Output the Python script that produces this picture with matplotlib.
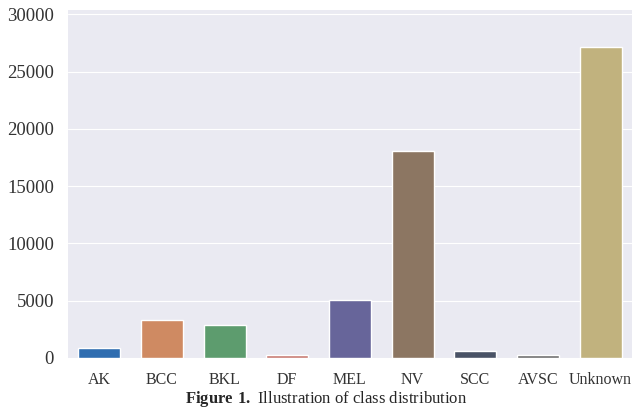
import matplotlib
matplotlib.use("Agg")
import matplotlib.pyplot as plt
import seaborn as sns

# class counts
classes = ["AK", "BCC", "BKL", "DF", "MEL", "NV", "SCC", "AVSC", "Unknown"]
counts = [870, 3320, 2870, 240, 5070, 18060, 620, 250, 27120]
colors = ["#2f6db0", "#cf8a62", "#5d9c6e", "#c87a72", "#67659a",
          "#8c7662", "#4a5366", "#6e6e6e", "#c1b27e"]
yticks = [0, 5000, 10000, 15000, 20000, 25000, 30000]

sns.set_style("darkgrid")
plt.rcParams["font.family"] = ["Liberation Serif", "DejaVu Serif"]
plt.rcParams["mathtext.fontset"] = "custom"
plt.rcParams["mathtext.rm"] = "Liberation Serif"
plt.rcParams["mathtext.bf"] = "Liberation Serif:bold"

fig = plt.figure(figsize=(6.4, 4.11), dpi=100)
ax = fig.add_axes([0.106, 0.129, 0.8815, 0.847])

ax.bar(range(len(classes)), counts, width=0.67, color=colors)
ax.set_xlim(-0.5, len(classes) - 0.5)
ax.set_ylim(0, 30400)
ax.set_yticks(yticks)
ax.set_xticks(range(len(classes)))
ax.set_xticklabels(classes)
ax.tick_params(axis="x", labelsize=11.5, colors="#333333", length=0, pad=10)
ax.tick_params(axis="y", labelsize=13.5, colors="#333333", length=0, pad=10)
ax.grid(axis="x", visible=False)
for s in ax.spines.values():
    s.set_visible(False)

fig.text(0.51, 0.02, r"$\mathbf{Figure\ 1.}$ Illustration of class distribution",
         ha="center", va="baseline", fontsize=12)

fig.savefig("out.png", dpi=100)
